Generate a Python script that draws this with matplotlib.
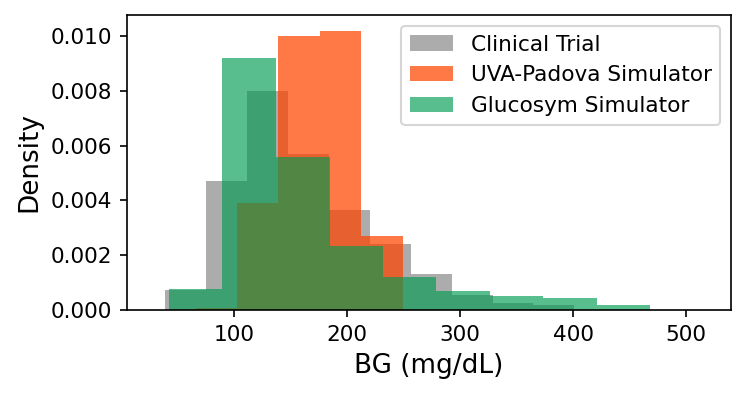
import numpy as np
import matplotlib
matplotlib.use("Agg")
import matplotlib.pyplot as plt

# bin edges and densities
clinical_edges = [39, 75.2, 111.4, 147.6, 183.8, 220, 256.2, 292.4, 328.6, 364.8, 401]
clinical_dens = [0.00073, 0.0047, 0.0080, 0.0057, 0.00365, 0.0024, 0.0013, 0.00055, 0.00025, 0.0002]

uva_edges = [66.4, 102.7, 138.9, 176.1, 212.4, 249.6]
uva_dens = [0.00007, 0.0039, 0.0100, 0.0102, 0.0027]

gluco_edges = [42.5, 89.4, 137.2, 185.0, 231.9, 278.8, 326.5, 373.5, 421.2, 468.1]
gluco_dens = [0.00077, 0.0092, 0.0056, 0.00234, 0.0012, 0.0007, 0.0005, 0.00044, 0.00018]

series = [
    ("Clinical Trial", clinical_edges, clinical_dens, "grey", 0.65),
    ("UVA-Padova Simulator", uva_edges, uva_dens, "orangered", 0.72),
    ("Glucosym Simulator", gluco_edges, gluco_dens, "#009b50", 0.65),
]

fig = plt.figure(figsize=(4.98, 2.64), dpi=150)
ax = fig.add_axes([0.170, 0.217, 0.809, 0.745])

for name, edges, dens, col, a in series:
    e = np.array(edges)
    ax.bar(e[:-1], dens, width=np.diff(e), align="edge", color=col,
           alpha=a, linewidth=0, label=name)

ax.set_xlim(5, 540)
ax.set_ylim(0, 0.01077)
ax.set_xticks([100, 200, 300, 400, 500])
ax.set_yticks([0, 0.002, 0.004, 0.006, 0.008, 0.010])
ax.set_yticklabels(["0.000", "0.002", "0.004", "0.006", "0.008", "0.010"])
ax.tick_params(labelsize=10.4)
ax.set_xlabel("BG (mg/dL)", fontsize=12.6)
ax.set_ylabel("Density", fontsize=12.6)
ax.legend(loc="upper right", fontsize=10.4)

fig.savefig("out.png", dpi=150)
